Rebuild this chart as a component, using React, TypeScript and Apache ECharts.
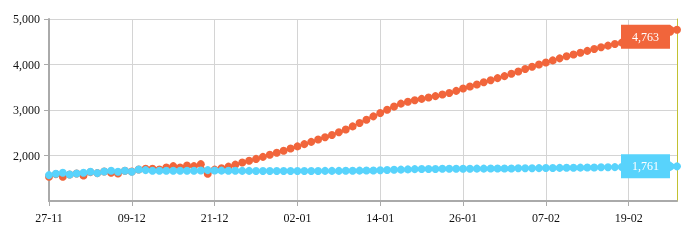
import React, { useEffect, useRef } from "react";
import * as echarts from "echarts";

const categories: string[] = [
  "27-11", "28-11", "29-11", "30-11",
  "01-12", "02-12", "03-12", "04-12", "05-12", "06-12", "07-12", "08-12", "09-12", "10-12",
  "11-12", "12-12", "13-12", "14-12", "15-12", "16-12", "17-12", "18-12", "19-12", "20-12",
  "21-12", "22-12", "23-12", "24-12", "25-12", "26-12", "27-12", "28-12", "29-12", "30-12", "31-12",
  "01-01", "02-01", "03-01", "04-01", "05-01", "06-01", "07-01", "08-01", "09-01", "10-01",
  "11-01", "12-01", "13-01", "14-01", "15-01", "16-01", "17-01", "18-01", "19-01", "20-01",
  "21-01", "22-01", "23-01", "24-01", "25-01", "26-01", "27-01", "28-01", "29-01", "30-01", "31-01",
  "01-02", "02-02", "03-02", "04-02", "05-02", "06-02", "07-02", "08-02", "09-02", "10-02",
  "11-02", "12-02", "13-02", "14-02", "15-02", "16-02", "17-02", "18-02", "19-02", "20-02",
  "21-02", "22-02", "23-02", "24-02", "25-02", "26-02",
];

const orangeValues: number[] = [
  1533, 1591, 1533, 1584, 1606, 1562, 1635, 1613, 1650, 1621,
  1606, 1664, 1650, 1693, 1708, 1708, 1693, 1737, 1766, 1737,
  1781, 1766, 1810, 1599, 1690, 1720, 1755, 1800, 1845, 1885,
  1925, 1970, 2015, 2060, 2105, 2155, 2200, 2250, 2300, 2350,
  2400, 2450, 2510, 2570, 2640, 2715, 2785, 2860, 2935, 3005,
  3075, 3140, 3180, 3215, 3245, 3275, 3305, 3340, 3375, 3420,
  3474, 3518, 3562, 3610, 3655, 3700, 3745, 3795, 3845, 3900,
  3950, 4000, 4045, 4090, 4135, 4180, 4220, 4260, 4300, 4340,
  4380, 4415, 4450, 4480, 4505, 4535, 4565, 4600, 4640, 4680,
  4720, 4763,
];

const cyanValues: number[] = [
  1569, 1599, 1621, 1584, 1606, 1621, 1642, 1613, 1650, 1664,
  1642, 1664, 1642, 1693, 1679, 1664, 1664, 1664, 1664, 1664,
  1664, 1664, 1672, 1679, 1672, 1668, 1665, 1665, 1662, 1662,
  1660, 1660, 1660, 1658, 1658, 1658, 1660, 1660, 1660, 1660,
  1662, 1662, 1662, 1665, 1665, 1668, 1670, 1672, 1675, 1680,
  1685, 1690, 1695, 1700, 1702, 1705, 1705, 1708, 1708, 1710,
  1710, 1710, 1712, 1712, 1714, 1714, 1716, 1716, 1718, 1718,
  1720, 1722, 1724, 1726, 1728, 1730, 1732, 1734, 1736, 1738,
  1740, 1742, 1745, 1748, 1750, 1752, 1754, 1755, 1757, 1758,
  1760, 1761,
];

const yTicks: number[] = [1000, 2000, 3000, 4000, 5000];

const ORANGE = "#f1653b";
const CYAN = "#58d3fc";
const FONT = "'Liberation Serif', serif";

const fmt = (v: number) => v.toLocaleString("en-US");

// tag shapes: box with a pointer on the right; tip is the anchor
const TAG_MID = "path://M0 0 L49 0 L49 7 L56 12 L49 17 L49 24 L0 24 Z";
const TAG_TOP = "path://M0 0 L49 0 L56 5 L49 10 L49 24 L0 24 Z";

function endTag(values: number[], color: string, path: string, offY: number) {
  const last = values.length - 1;
  return {
    silent: true,
    symbol: path,
    symbolSize: [56, 24],
    symbolOffset: [-28, offY],
    symbolKeepAspect: false,
    itemStyle: { color },
    label: {
      show: true,
      position: "inside",
      offset: [-3.5, 0],
      color: "#ffffff",
      fontFamily: FONT,
      fontSize: 12,
      formatter: () => fmt(values[last]),
    },
    data: [{ coord: [categories[last], values[last]], value: values[last] }],
  };
}

export default function App() {
  const ref = useRef<HTMLDivElement>(null);
  useEffect(() => {
    if (!ref.current) return;
    const chart = echarts.init(ref.current, undefined, { renderer: "svg" });
    chart.setOption({
      animation: false,
      textStyle: { fontFamily: FONT },
      grid: { left: 49, right: 15, top: 19, bottom: 39, containLabel: false },
      xAxis: {
        type: "category",
        data: categories,
        boundaryGap: false,
        axisLine: { show: true, lineStyle: { color: "#aaaaaa", width: 2 } },
        axisTick: { show: true, interval: 11, length: 5, lineStyle: { color: "#aaaaaa" } },
        axisLabel: { interval: 11, color: "#111", fontSize: 12, fontFamily: FONT, margin: 11 },
        splitLine: { show: true, interval: 11, lineStyle: { color: "#d4d4d4", width: 1 } },
      },
      yAxis: [
        {
          type: "value",
          min: yTicks[0],
          max: yTicks[yTicks.length - 1],
          interval: 1000,
          axisLine: { show: true, lineStyle: { color: "#aaaaaa", width: 2 } },
          axisTick: { show: true, length: 5, lineStyle: { color: "#aaaaaa" } },
          axisLabel: {
            showMinLabel: false,
            color: "#111",
            fontSize: 12,
            fontFamily: FONT,
            margin: 9,
            formatter: (v: number) => fmt(v),
          },
          splitLine: { show: true, lineStyle: { color: "#d4d4d4", width: 1 } },
        },
        {
          type: "value",
          position: "right",
          min: yTicks[0],
          max: yTicks[yTicks.length - 1],
          interval: 1000,
          axisLine: { show: true, lineStyle: { color: "#c2c232", width: 1 } },
          axisTick: { show: false },
          axisLabel: { show: false },
          splitLine: { show: false },
        },
      ],
      series: [
        {
          type: "line",
          data: orangeValues,
          symbol: "circle",
          symbolSize: 8,
          showAllSymbol: true,
          clip: false,
          lineStyle: { color: ORANGE, width: 2 },
          itemStyle: { color: ORANGE },
          markPoint: endTag(orangeValues, ORANGE, TAG_TOP, 7),
        },
        {
          type: "line",
          data: cyanValues,
          symbol: "circle",
          symbolSize: 8,
          showAllSymbol: true,
          clip: false,
          lineStyle: { color: CYAN, width: 2 },
          itemStyle: { color: CYAN },
          markPoint: endTag(cyanValues, CYAN, TAG_MID, 0),
        },
      ],
    });
    return () => chart.dispose();
  }, []);
  return (
    <div
      ref={ref}
      style={{ position: "fixed", left: 0, top: 0, width: 692, height: 240 }}
    />
  );
}
